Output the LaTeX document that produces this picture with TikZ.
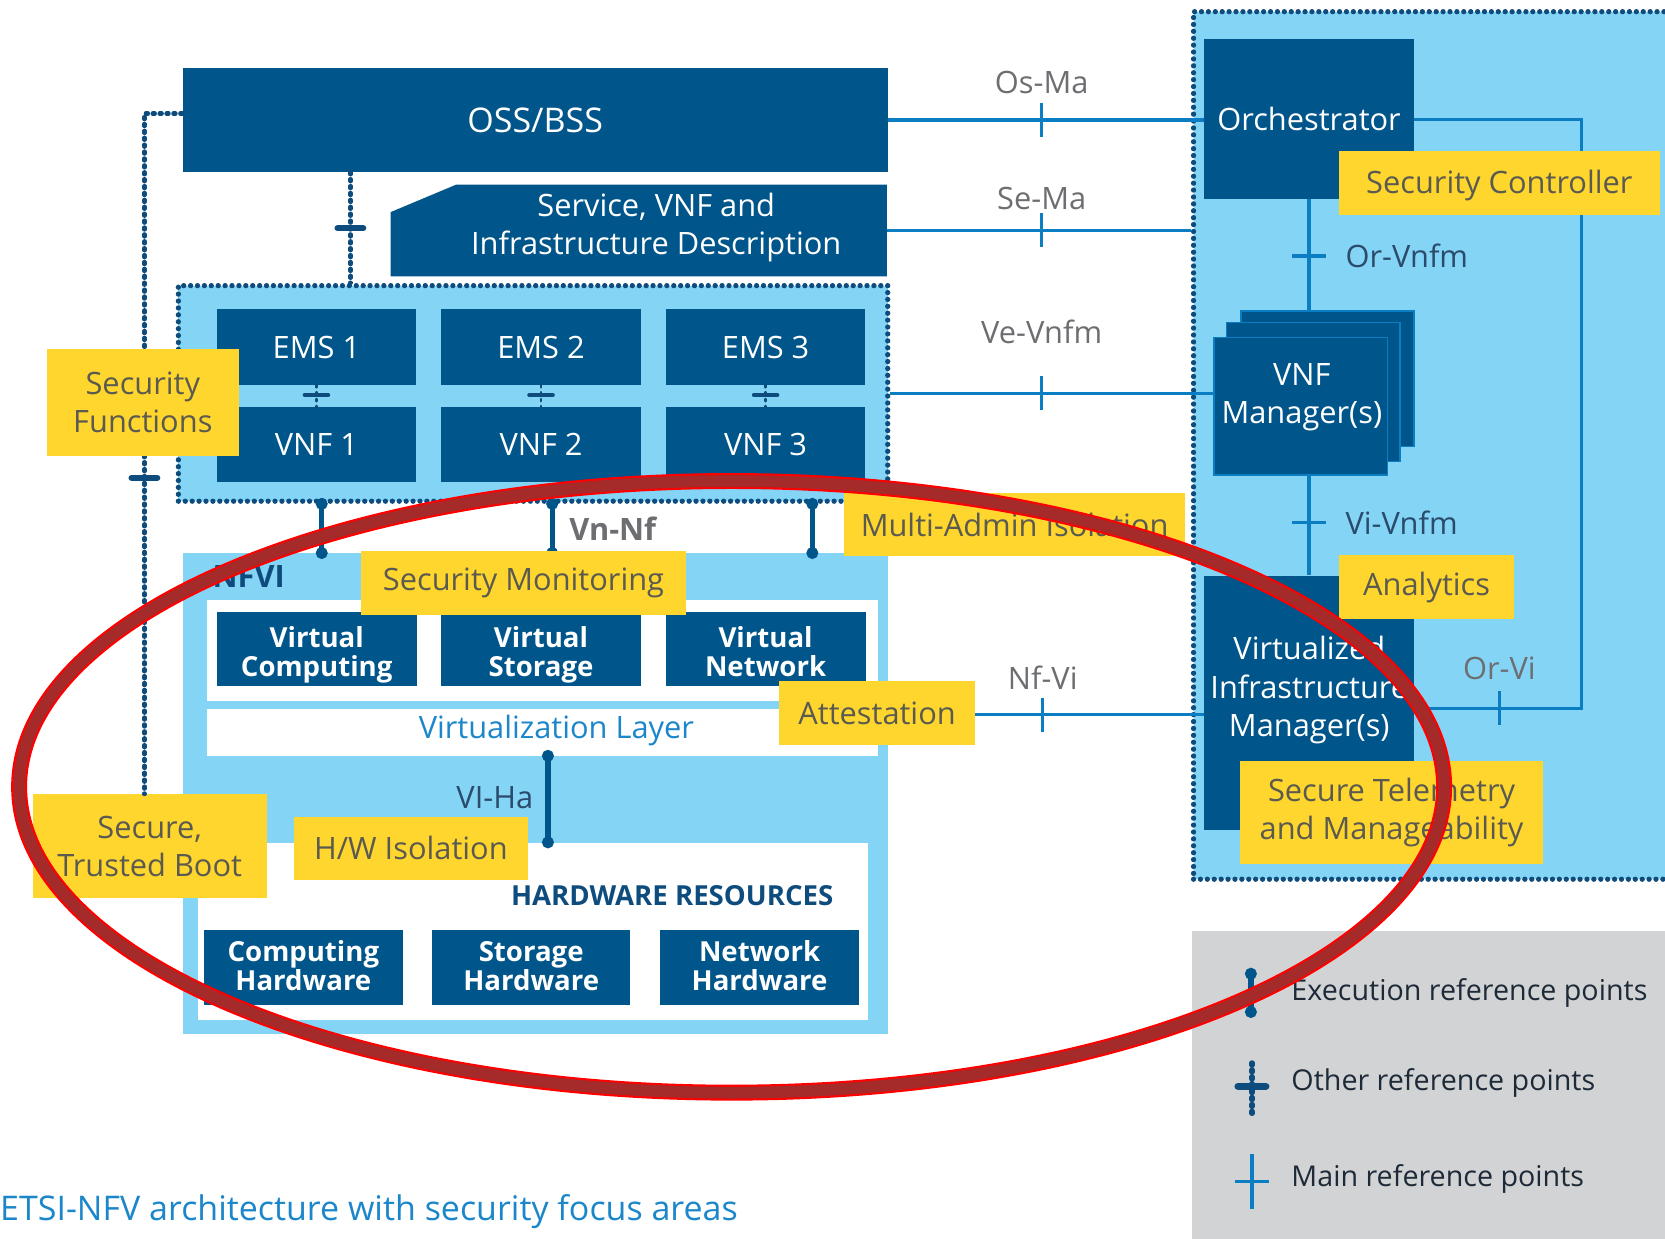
\documentclass[tikz,border=0pt]{standalone}
\usepackage{fontspec}
\setmainfont{Open Sans}
\usepackage{tikz}
\usetikzlibrary{arrows.meta,calc,positioning}
\definecolor{nfvdark}{HTML}{00558A}
\definecolor{nfvlight}{HTML}{84D4F6}
\definecolor{nfvyellow}{HTML}{FFD62E}
\definecolor{nfvline}{HTML}{0B7DC3}
\definecolor{nfvgrey}{HTML}{6D6E71}
\definecolor{nfvnavy}{HTML}{0D4C7D}
\definecolor{nfvslate}{HTML}{2A4B6B}
\definecolor{nfvblue}{HTML}{1B87CA}
\definecolor{nfvpanel}{HTML}{D1D3D4}
\definecolor{nfvytext}{HTML}{5A5A50}
\definecolor{nfvink}{HTML}{1E2A38}
\definecolor{ellred}{HTML}{A52A2A}
\newcommand{\nfvbig}{\fontsize{29}{36}\selectfont}
\newcommand{\nfvmid}{\fontsize{26}{27}\selectfont\bfseries}
\newcommand{\nfvleg}{\fontsize{27}{30}\selectfont}
\newcommand{\nfvcap}{\fontsize{32}{34}\selectfont}
\tikzstyle{darkbox}=[fill=nfvdark, text=white, inner sep=0pt, align=center, font=\nfvbig]
\tikzstyle{stackbox}=[fill=nfvdark, draw=nfvline, line width=1.5pt, inner sep=0pt]
\tikzstyle{yellowbox}=[fill=nfvyellow, text=nfvytext, inner sep=0pt, align=center, font=\nfvbig]
\tikzstyle{whitepanel}=[fill=white, inner sep=0pt]
\tikzstyle{beadbox}=[fill=nfvlight, draw=nfvnavy, line width=5pt, dash pattern=on 0pt off 6.5pt, line cap=round, inner sep=0pt]
\tikzstyle{mainref}=[draw=nfvline, line width=3pt]
\tikzstyle{execref}=[draw=nfvdark, line width=5pt, {Circle[length=11pt,width=11pt]}-{Circle[length=11pt,width=11pt]}, shorten <=-5.5pt, shorten >=-5.5pt]
\tikzstyle{otherref}=[draw=nfvnavy, line width=4pt, dash pattern=on 2pt off 4.5pt, line cap=round]
\tikzstyle{reflabel}=[text=nfvgrey, font=\nfvbig, inner sep=0pt]
\tikzstyle{legendtext}=[text=nfvink, font=\nfvleg, inner sep=0pt, anchor=west]
\newcommand{\maintick}[1]{
 \draw[mainref] ($#1+(0,-16)$) -- ($#1+(0,16)$);
}
\newcommand{\maintickh}[1]{
 \draw[mainref] ($#1+(-16,0)$) -- ($#1+(16,0)$);
}
\newcommand{\otherbar}[3]{
 \draw[nfvnavy, line width=#3, line cap=round] ($#1+(-#2,0)$) -- ($#1+(#2,0)$);
}
\begin{document}
\begin{tikzpicture}[x=1pt, y=-1pt]
 \useasboundingbox (0,0) rectangle (1568,1166);
 \fill[white] (0,0) rectangle (1568,1166);
%
 \node[fill=nfvpanel, minimum width=480pt, minimum height=330pt, inner sep=0pt, anchor=north west] (legend) at (1122,877) {};
%
 \node[darkbox, font=\fontsize{32}{36}\selectfont, minimum width=664pt, minimum height=98pt] (oss) at (504,113) {OSS/BSS};
 \node[minimum width=467pt, minimum height=86pt, inner sep=0pt] (svc) at (601.5,217) {};
 \fill[nfvdark] (svc.south west) -- ($(svc.north west)+(0,26)$) -- ($(svc.north west)+(62,0)$) -- (svc.north east) -- (svc.south east) -- cycle;
 \node[text=white, font=\nfvbig, align=center, inner sep=0pt] (svc-text) at (618,214) {Service, VNF and\\Infrastructure Description};
%
 \node[beadbox, minimum width=668pt, minimum height=203pt] (vnfarea) at (502,370.5) {};
 \foreach \i/\x in {1/298, 2/509.5, 3/721} {
 \node[darkbox, minimum width=188pt, minimum height=71.6pt] (ems\i) at (\x,326.8) {EMS \i};
 \node[darkbox, minimum width=188pt, minimum height=70.4pt] (vnf\i) at (\x,418.8) {VNF \i};
 \draw[otherref, line width=2.5pt] (ems\i.south) -- (vnf\i.north);
 \otherbar{(\x,372)}{11}{4pt}
 }
 \draw[otherref] (oss.south -| 330,0) -- (vnfarea.north -| 330,0);
 \otherbar{(330,215)}{12}{6pt}
%
 \node[fill=nfvlight, minimum width=664pt, minimum height=452.5pt, inner sep=0pt] (nfvi) at (504,747.25) {};
 \node[anchor=west, text=nfvnavy, font=\nfvbig\bfseries, inner sep=0pt] (nfvi-title) at (200,543) {NFVI};
 \node[whitepanel, minimum width=632.4pt, minimum height=95pt] (vpanel) at (510.8,612.5) {};
 \foreach \n/\x/\t in {vc/298.25/Computing, vs/509.5/Storage, vn/721/Network}
 \node[darkbox, font=\nfvmid, minimum width=188.5pt, minimum height=69.5pt] (\n) at (\x,611.25) {\rule{0pt}{31pt}Virtual\\\t\vphantom{g}};
 \node[whitepanel, minimum width=632.4pt, minimum height=43.6pt] (vlayer) at (510.8,689.8) {};
 \node[text=nfvblue, font=\nfvbig, inner sep=0pt] (vlayer-text) at (524,688) {Virtualization Layer};
 \node[whitepanel, minimum width=631pt, minimum height=167pt] (hwres) at (502,877) {};
 \node[text=nfvnavy, font=\nfvmid, inner sep=0pt] (hwres-title) at (633,843) {HARDWARE RESOURCES};
 \foreach \n/\x/\t in {ch/285.7/Computing, sh/500.25/Storage, nh/715.35/Network}
 \node[darkbox, font=\nfvmid, minimum width=187pt, minimum height=71.3pt] (\n) at (\x,911) {\rule{0pt}{24pt}\t\\Hardware\strut};
%
 \foreach \x in {303,520,765}
 \draw[execref] (vnfarea.south -| \x,0) -- (nfvi.north -| \x,0);
 \draw[execref] (vlayer.south -| 516,0) -- (hwres.north -| 516,0);
 \node[text=nfvgrey, font=\nfvbig\bfseries, inner sep=0pt] (vnnf) at (577,498) {Vn-Nf};
 \node[text=nfvslate, font=\nfvbig, inner sep=0pt] (viha) at (466,751) {VI-Ha};
%
 \node[beadbox, minimum width=476pt, minimum height=817pt] (mano) at (1362,419.5) {};
 \node[darkbox, minimum width=197.6pt, minimum height=150.4pt] (orch) at (1232.8,112.2) {Orchestrator};
 \node[stackbox, minimum width=162.9pt, minimum height=127.7pt] (vnfm-back) at (1250.15,356.75) {};
 \node[stackbox, minimum width=163.4pt, minimum height=130.9pt] (vnfm-mid) at (1236.7,369.35) {};
 \node[stackbox, minimum width=163.6pt, minimum height=129.6pt] (vnfm) at (1224.8,382.5) {};
 \node[text=white, font=\nfvbig, align=center, inner sep=0pt] (vnfm-text) at (1226,374) {VNF\\Manager(s)};
 \node[darkbox, minimum width=197.6pt, minimum height=239.6pt] (vim) at (1232.8,661.8) {};
 \node[text=white, font=\nfvbig, align=center, inner sep=0pt] (vim-text) at (1233,650) {Virtualized\\Infrastructure\\Manager(s)};
%
 \node[reflabel] (osma) at (981,78) {Os-Ma};
 \draw[mainref] (oss.east) -- (oss.east -| orch.west);
 \coordinate (osma-t) at (osma |- oss.east);
 \maintick{(osma-t)}
 \node[reflabel] (sema) at (981,187) {Se-Ma};
 \draw[mainref] (svc.east) -- (svc.east -| mano.west);
 \coordinate (sema-t) at (sema |- svc.east);
 \maintick{(sema-t)}
 \node[reflabel] (vevnfm) at (981,313) {Ve-Vnfm};
 \draw[mainref] (vnfarea.east) -- (vnfarea.east -| vnfm.west);
 \coordinate (vevnfm-t) at (vevnfm |- vnfarea.east);
 \maintick{(vevnfm-t)}
 \node[reflabel] (nfvi-lbl) at (982,638) {Nf-Vi};
 \coordinate (nfvi-port) at (nfvi.east |- 0,673);
 \draw[mainref] (nfvi-port) -- (nfvi-port -| vim.west);
 \coordinate (nfvi-t) at (nfvi-lbl |- nfvi-port);
 \maintick{(nfvi-t)}
 \node[reflabel, text=nfvslate, anchor=west] (orvnfm) at (1267,241) {Or-Vnfm};
 \draw[mainref] (orch.south) -- (orch.south |- vnfm-back.north);
 \coordinate (orvnfm-t) at (orch.south |- orvnfm.west);
 \maintickh{(orvnfm-t)}
 \node[reflabel, text=nfvslate, anchor=west] (vivnfm) at (1267,492) {Vi-Vnfm};
 \draw[mainref] (vim.north |- vnfm.south) -- (vim.north);
 \coordinate (vivnfm-t) at (vim.north |- vivnfm.west);
 \maintickh{(vivnfm-t)}
 \node[reflabel] (orvi) at (1412,629) {Or-Vi};
 \coordinate (orvi-corner) at (1489,667);
 \draw[mainref] (orch.east) -| (orvi-corner) -- (orvi-corner -| vim.east);
 \coordinate (orvi-t) at (orvi |- orvi-corner);
 \maintick{(orvi-t)}
%
 \node[yellowbox, minimum width=306pt, minimum height=60pt] (secmon) at (493,549) {Security Monitoring};
 \node[yellowbox, minimum width=321pt, minimum height=60pt] (multiadmin) at (955.5,494) {Multi-Admin Isolation};
 \node[yellowbox, minimum width=184pt, minimum height=61pt] (attest) at (826,671.5) {Attestation};
 \node[yellowbox, minimum width=220pt, minimum height=98pt] (boot) at (141,797) {Secure,\\Trusted Boot};
 \node[yellowbox, minimum width=220pt, minimum height=60pt] (hwiso) at (387,799) {H/W Isolation};
 \node[yellowbox, minimum width=302pt, minimum height=60.5pt] (secctrl) at (1412,172) {\rule{0pt}{27pt}Security Controller};
 \node[yellowbox, minimum width=165pt, minimum height=60pt] (analytics) at (1343.5,553) {Analytics};
 \node[yellowbox, minimum width=285pt, minimum height=97pt] (telemetry) at (1310.5,765.5) {Secure Telemetry\\and Manageability};
%
 \draw[otherref] (oss.west |- 0,107) -| (boot.north -| 136,0);
 \otherbar{(136,450)}{12}{6pt}
 \node[yellowbox, minimum width=181pt, minimum height=100pt] (secfun) at (134.5,379) {Security\\Functions};
%
 \node[legendtext] (lg-exec) at (1216,935) {Execution reference points};
 \coordinate (lg-exec-top) at (1178,917);
 \coordinate (lg-exec-bot) at (1178,953);
 \draw[execref] (lg-exec-top) -- (lg-exec-bot);
 \node[legendtext] (lg-other) at (1216,1020) {Other reference points};
 \coordinate (lg-other-top) at (1179,1001);
 \coordinate (lg-other-bot) at (1179,1050);
 \draw[otherref, line width=5pt] (lg-other-top) -- (lg-other-bot);
 \otherbar{(1179,1023)}{13}{7pt}
 \node[legendtext] (lg-main) at (1216,1110) {Main reference points};
 \coordinate (lg-main-top) at (1179,1087);
 \coordinate (lg-main-bot) at (1179,1139);
 \draw[mainref] (lg-main-top) -- (lg-main-bot);
 \maintickh{($(lg-main-top)!.5!(lg-main-bot)$)}
%
 \node[anchor=west, text=nfvblue, font=\nfvcap, inner sep=0pt] (caption) at (0,1141) {ETSI-NFV architecture with security focus areas};
%
 \draw[red, line width=15pt] (689,741) ellipse [x radius=671pt, y radius=288pt];
 \draw[ellred, line width=11pt] (689,741) ellipse [x radius=671pt, y radius=288pt];
\end{tikzpicture}
\end{document}
